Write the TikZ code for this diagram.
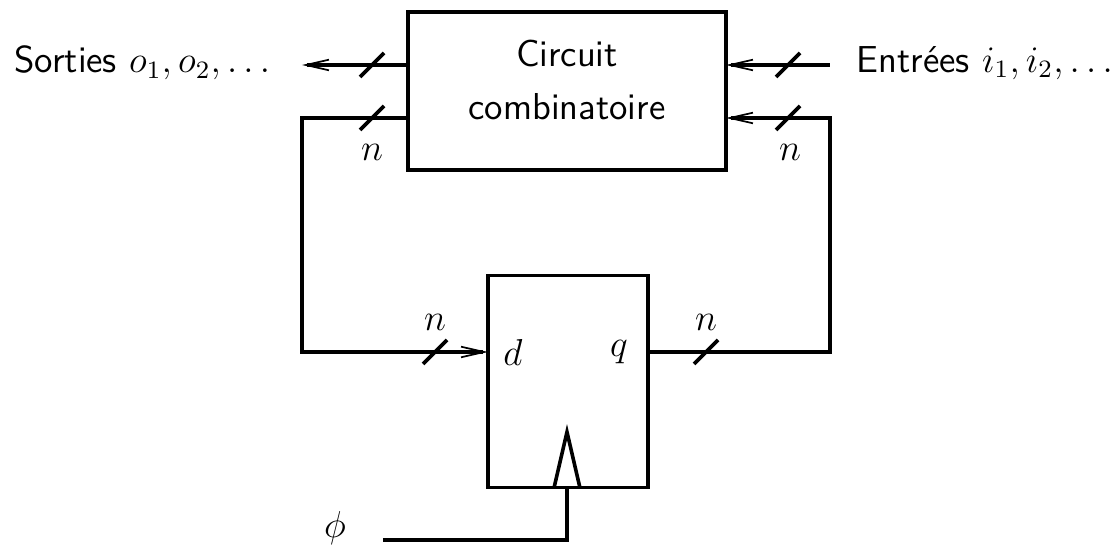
\documentclass[tikz,border=0pt]{standalone}
\usetikzlibrary{arrows.meta}
\begin{document}
\begin{tikzpicture}[x=0.32pt,y=-0.32pt, line width=1.15pt,
  font=\fontsize{12}{14.5}\selectfont,
  tip/.style={-{Straight Barb[length=7.4pt,width=3.4pt,line width=0.55pt]}},
  box/.style={draw, line width=1.15pt, inner sep=0pt},
  lbl/.style={inner sep=0pt},
  txt/.style={font=\fontsize{12}{14.5}\selectfont\sffamily},
  bus/.pic={\draw[line width=1.15pt] (-12,12) -- (12,-12);}]
\useasboundingbox (0,0) rectangle (1115,546);
% boxes
\node[box, txt, minimum width=101.8pt, minimum height=50.4pt, align=center, text depth=7.4pt] (cc) at (567,91) {Circuit\\[2.5pt]combinatoire};
\node[box, minimum width=51.2pt, minimum height=67.8pt] (ff) at (568,381.5) {};
% texts
\node[anchor=east, txt, lbl] (sort) at (272,63) {Sorties $o_1,o_2,\ldots$};
\node[anchor=west, txt, lbl] (entr) at (855,63) {Entrées $i_1,i_2,\ldots$};
\node[lbl] (dl) at (513,352) {$d$};
\node[lbl] (ql) at (619,352) {$q$};
\node[lbl] (phi) at (335,528) {$\phi$};
% connection points
\coordinate (co) at (408,65);
\coordinate (cf) at (408,118);
\coordinate (ci) at (726,65);
\coordinate (cr) at (726,118);
\coordinate (fd) at (488,352);
\coordinate (fq) at (648,352);
\coordinate (fc) at (567,488);
\coordinate (oend) at (302,65);
\coordinate (istart) at (830,65);
\coordinate (phistart) at (383,540);
% connectors
\draw[tip] (co) -- (oend);
\draw[tip] (istart) -- (ci);
\draw[tip] (cf) -- (302,118) -- (302,352) -- (fd);
\draw[tip] (fq) -- (830,352) -- (830,118) -- (cr);
\draw (phistart) -- (567,540) -- (fc);
% clock triangle
\draw[line join=miter] (554,488) -- (567,432) -- (580,488);
% bus slashes
\pic at (372,65) {bus};
\pic at (372,118) {bus};
\pic at (788,65) {bus};
\pic at (788,118) {bus};
\pic at (435,352) {bus};
\pic at (706,352) {bus};
% n labels
\node[lbl] (n1) at (372,152) {$n$};
\node[lbl] (n2) at (790,152) {$n$};
\node[lbl] (n3) at (435,322) {$n$};
\node[lbl] (n4) at (706,322) {$n$};
\end{tikzpicture}
\end{document}
